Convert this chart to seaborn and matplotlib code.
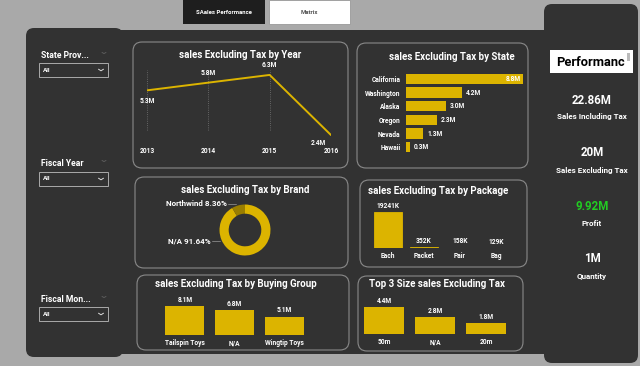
import matplotlib
matplotlib.use("Agg")
import matplotlib.pyplot as plt
from matplotlib.patches import FancyBboxPatch, Rectangle
import seaborn as sns

# ---- data ----
years = [2013, 2014, 2015, 2016]
sales_by_year = [5.3, 5.8, 6.3, 2.4]
year_labels = ["5.3M", "5.8M", "6.3M", "2.4M"]

states = ["California", "Washington", "Alaska", "Oregon", "Nevada", "Hawaii"]
sales_by_state = [8.8, 4.2, 3.0, 2.3, 1.3, 0.3]

brands = ["N/A", "Northwind"]
brand_share = [91.64, 8.36]

packages = ["Each", "Packet", "Pair", "Bag"]
sales_by_package = [19241, 352, 158, 129]

buying_groups = ["Tailspin Toys", "N/A", "Wingtip Toys"]
sales_by_group = [8.1, 6.8, 5.1]

sizes = ["50m", "N/A", "20m"]
sales_by_size = [4.4, 2.8, 1.8]

kpi_values = ["22.86M", "20M", "9.92M", "1M"]
kpi_names = ["Sales Including Tax", "Sales Excluding Tax", "Profit", "Quantity"]

slicers = ["State Prov...", "Fiscal Year", "Fiscal Mon..."]

# ---- style ----
W, H = 640, 366
GOLD = "#dcb400"
DARK_GOLD = "#9a7e00"
PANEL = "#323232"
BORDER = "#8a8a8a"
FONT = "Roboto"

sns.set_theme(style="dark")
plt.rcParams["font.family"] = [FONT, "DejaVu Sans"]
plt.rcParams["font.weight"] = "bold"

fig = plt.figure(figsize=(6.4, 3.66), dpi=100)
fig.patch.set_facecolor("#a9a9a9")

# full-figure axes in pixel coordinates for panels and text
bg = fig.add_axes([0, 0, 1, 1])
bg.set_xlim(0, W)
bg.set_ylim(H, 0)
bg.axis("off")


def rbox(x0, y0, x1, y1, r=8, fc=PANEL, ec="none", lw=0.8, z=1):
    bg.add_patch(FancyBboxPatch((x0, y0), x1 - x0, y1 - y0,
                                boxstyle=f"round,pad=0,rounding_size={r}",
                                fc=fc, ec=ec, lw=lw, zorder=z))


def px_axes(x0, y0, x1, y1):
    a = fig.add_axes([x0 / W, 1 - y1 / H, (x1 - x0) / W, (y1 - y0) / H])
    a.set_facecolor("none")
    return a


def txt(x, y, s, size=5, color="white", ha="center", **kw):
    bg.text(x, y, s, fontsize=size, color=color, ha=ha, va="center",
            fontweight="bold", zorder=5, **kw)


def chevron(x, y, color, w=2.5, h=1.6):
    bg.plot([x - w, x, x + w], [y - h / 2, y + h / 2, y - h / 2],
            color=color, lw=0.7, zorder=5, solid_capstyle="round")


def clean(a):
    for sp in a.spines.values():
        sp.set_visible(False)
    a.set_xlabel("")
    a.set_ylabel("")
    a.grid(False)


def bold_ticks(a):
    for t in a.get_xticklabels() + a.get_yticklabels():
        t.set_fontweight("bold")


# ---- background panels ----
bg.add_patch(Rectangle((120, 30), 424, 324, fc=PANEL, ec="none", zorder=0))
rbox(26, 28, 123, 357, r=8, z=1)
rbox(544, 4, 638, 363, r=8, z=1)

# tabs
bg.add_patch(Rectangle((183, 0), 82, 24, fc="#1e1e1e", ec="none", zorder=2))
txt(224, 12, "SAales Performance", size=4.3)
bg.add_patch(Rectangle((269, 0), 81, 24, fc="white", ec="#999999", lw=0.6, zorder=2))
txt(309.5, 12, "Matrix", size=4.3, color="#555555")

# slicers
for name, ty, by in zip(slicers, [55, 163, 299], [63, 172, 307]):
    txt(41, ty, name, size=6.2, ha="left")
    chevron(104, ty - 2, "#5a5a5a", w=2, h=1.3)
    bg.add_patch(Rectangle((39, by), 69, 14, fc="none", ec="#aaaaaa", lw=0.7, zorder=3))
    txt(43, by + 7, "All", size=4.5, ha="left")
    chevron(101, by + 7, "#dddddd")

# KPI panel
bg.add_patch(Rectangle((550, 50), 83, 23, fc="white", ec="none", zorder=3))
bg.add_patch(Rectangle((627, 53), 3, 8, fc="#bbbbbb", ec="none", zorder=4))
txt(556, 62, "Performanc", size=9.3, color="black", ha="left")
for i, (v, n) in enumerate(zip(kpi_values, kpi_names)):
    y = 100 + i * 53
    col = "#22cc22" if n == "Profit" else "white"
    txt(592, y, v, size=8.3, color=col)
    txt(592, y + 17, n, size=5.8)

# cards
cards = [(133, 42, 348, 168), (357, 43, 528, 168), (135, 177, 348, 268),
         (360, 180, 527, 267), (137, 275, 349, 350), (358, 276, 523, 351)]
for c in cards:
    rbox(*c, r=9, ec=BORDER, lw=0.8, z=2)

titles = [(240, 55, "sales Excluding Tax by Year"),
          (452, 57, "sales Excluding Tax by State"),
          (245, 190, "sales Excluding Tax by Brand"),
          (438, 191, "sales Excluding Tax by Package"),
          (236, 284, "sales Excluding Tax by Buying Group"),
          (437, 284, "Top 3 Size sales Excluding Tax")]
for x, y, s in titles:
    txt(x, y, s, size=7)

# ---- year line ----
ax = px_axes(147, 70, 331, 140)
sns.lineplot(x=years, y=sales_by_year, ax=ax, color=GOLD, linewidth=1.4)
ax.set_xlim(2013, 2016)
ax.set_ylim(2.08, 6.62)
clean(ax)
ax.set_xticks(years)
ax.set_xticklabels([str(y) for y in years])
ax.set_yticks([])
ax.tick_params(axis="x", length=0, pad=5, labelsize=4.8, colors="white")
bold_ticks(ax)
for yr in years:
    ax.axvline(yr, ymin=0.15, ymax=1, color="#777777", lw=0.6, ls=":", zorder=0)
offsets = [(0, -8), (0, 7), (0, 7), (-9, -6)]
for yr, v, lab, off in zip(years, sales_by_year, year_labels, offsets):
    ax.annotate(lab, (yr, v), xytext=off, textcoords="offset points",
                ha="center", va="center", fontsize=4.8, color="white",
                fontweight="bold", annotation_clip=False)

# ---- state bars ----
ax = px_axes(406, 72, 526, 154)
sns.barplot(x=sales_by_state, y=states, ax=ax, color=GOLD, orient="h",
            width=0.74, saturation=1, edgecolor="none")
ax.set_xlim(0, 9.0)
clean(ax)
ax.set_xticks([])
ax.tick_params(axis="y", length=0, pad=4, labelsize=4.8, colors="white")
bold_ticks(ax)
for i, v in enumerate(sales_by_state):
    if i == 0:
        ax.text(v - 0.15, i, f"{v}M", ha="right", va="center", fontsize=4.8,
                color="white", fontweight="bold")
    else:
        ax.text(v + 0.3, i, f"{v}M", ha="left", va="center", fontsize=4.8,
                color="white", fontweight="bold")

# ---- brand donut ----
ax = px_axes(219, 204, 271, 256)
ax.pie(brand_share, colors=[GOLD, DARK_GOLD], startangle=90, counterclock=False,
       wedgeprops=dict(width=0.36, edgecolor="none"))
ax.set_xlim(-1.02, 1.02)
ax.set_ylim(-1.02, 1.02)
ax.set_aspect("equal")
bg.plot([228, 236], [204, 204], color="#888888", lw=0.6, zorder=5)
bg.plot([212, 220], [241, 241], color="#888888", lw=0.6, zorder=5)
txt(227, 204, f"{brands[1]} {brand_share[1]:.2f}%", size=5.8, ha="right")
txt(211, 241, f"{brands[0]} {brand_share[0]:.2f}%", size=5.8, ha="right")

# ---- package bars ----
ax = px_axes(370, 205, 514, 248)
sns.barplot(x=packages, y=sales_by_package, ax=ax, color=GOLD, width=0.78,
            saturation=1, edgecolor=GOLD, linewidth=0.6)
ax.set_ylim(0, 23000)
clean(ax)
ax.set_yticks([])
ax.tick_params(axis="x", length=0, pad=3, labelsize=4.8, colors="white")
for i, v in enumerate(sales_by_package):
    ax.annotate(f"{v}K", (i, v), xytext=(0, 4.5), textcoords="offset points",
                ha="center", va="center", fontsize=4.8, color="white",
                fontweight="bold", annotation_clip=False)


# ---- buying group / size bars ----
def column_card(box, cats, vals, top):
    a = px_axes(*box)
    sns.barplot(x=cats, y=vals, ax=a, color=GOLD, width=0.78, saturation=1,
                edgecolor="none")
    a.set_ylim(0, top)
    clean(a)
    a.set_yticks([])
    a.tick_params(axis="x", length=0, pad=3, labelsize=4.8, colors="white")
    bold_ticks(a)
    for i, v in enumerate(vals):
        a.annotate(f"{v}M", (i, v), xytext=(0, 4.5), textcoords="offset points",
                   ha="center", va="center", fontsize=4.8, color="white",
                   fontweight="bold", annotation_clip=False)


column_card((160, 300, 309, 335), buying_groups, sales_by_group, 9.7)
column_card((358.5, 300, 511.5, 334), sizes, sales_by_size, 5.57)

fig.savefig("out.png", dpi=100, facecolor=fig.get_facecolor())
